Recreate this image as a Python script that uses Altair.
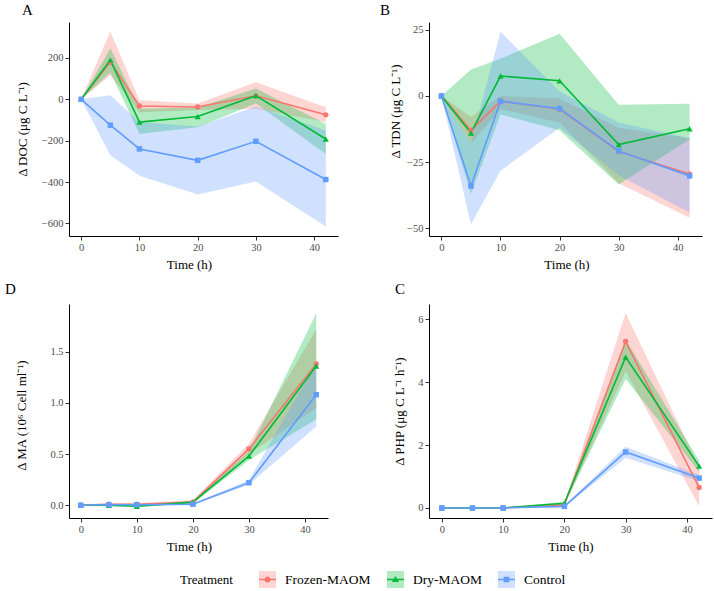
import altair as alt
import pandas as pd

FONT = "Liberation Serif"

times = [0, 5, 10, 20, 30, 42]
treatments = ["Frozen-MAOM", "Dry-MAOM", "Control"]
key_domain = [t + " " for t in treatments]  # same names, used for the key glyph legend
colors = ["#F8766D", "#00BA38", "#619CFF"]
point_shapes = ["circle", "triangle-up", "square"]
point_sizes = [28, 38, 30]
x_ticks = [0, 10, 20, 30, 40]

# Panel A: DOC
doc_mean = {"Frozen-MAOM": [0, 180, -32, -37, 17, -75],
            "Dry-MAOM": [0, 190, -110, -83, 18, -192],
            "Control": [0, -125, -240, -295, -203, -388]}
doc_lo = {"Frozen-MAOM": [0, 117, -62, -52, -45, -110],
          "Dry-MAOM": [0, 130, -168, -135, -20, -265],
          "Control": [0, -270, -370, -460, -398, -615]}
doc_hi = {"Frozen-MAOM": [0, 328, -5, -20, 83, -38],
          "Dry-MAOM": [0, 247, -45, -40, 52, -119],
          "Control": [0, 20, -110, -132, -35, -151]}

# Panel B: TDN
tdn_mean = {"Frozen-MAOM": [0, -13, -2, -5, -21, -29.5],
            "Dry-MAOM": [0, -14, 7.5, 5.7, -18.4, -12.4],
            "Control": [0, -34, -2, -4.8, -20.8, -30.2]}
tdn_lo = {"Frozen-MAOM": [0, -18, -5, -10, -33, -46],
          "Dry-MAOM": [0, -37, -7, -13, -33.5, -16.4],
          "Control": [0, -48.5, -28.3, -12, -30, -44]}
tdn_hi = {"Frozen-MAOM": [0, -8, 0, -1, -12, -16],
          "Dry-MAOM": [0, 10, 14, 23.5, -3.3, -3],
          "Control": [0, -18, 24.3, 1.7, -10, -16]}

# Panel D: MA
ma_mean = {"Frozen-MAOM": [0, 0.01, 0.01, 0.03, 0.55, 1.38],
           "Dry-MAOM": [0, 0, -0.01, 0.03, 0.48, 1.36],
           "Control": [0, 0.005, 0.005, 0.01, 0.22, 1.08]}
ma_lo = {"Frozen-MAOM": [-0.01, 0, 0, 0.01, 0.5, 0.95],
         "Dry-MAOM": [-0.01, -0.01, -0.02, 0.02, 0.44, 0.84],
         "Control": [-0.01, 0, 0, 0, 0.2, 0.77]}
ma_hi = {"Frozen-MAOM": [0.01, 0.02, 0.02, 0.05, 0.6, 1.72],
         "Dry-MAOM": [0.01, 0.01, 0, 0.04, 0.53, 1.875],
         "Control": [0.01, 0.01, 0.01, 0.02, 0.245, 1.39]}

# Panel C: PHP
php_mean = {"Frozen-MAOM": [0, 0, 0, 0.1, 5.3, 0.65],
            "Dry-MAOM": [0, 0, 0, 0.15, 4.8, 1.33],
            "Control": [0, 0, 0, 0.05, 1.78, 0.95]}
php_lo = {"Frozen-MAOM": [0, 0, 0, 0.05, 4.35, 0.05],
          "Dry-MAOM": [0, 0, 0, 0.1, 4.1, 1.15],
          "Control": [0, 0, 0, 0.02, 1.6, 0.85]}
php_hi = {"Frozen-MAOM": [0, 0, 0, 0.15, 6.2, 1.3],
          "Dry-MAOM": [0, 0, 0, 0.2, 5.35, 1.5],
          "Control": [0, 0, 0, 0.08, 1.95, 1.05]}


def make_df(mean, lo, hi):
    rows = []
    for tr, kd in zip(treatments, key_domain):
        for t, m, l, h in zip(times, mean[tr], lo[tr], hi[tr]):
            rows.append(dict(Time=t, Treatment=tr, Trt=kd, mean=m, lo=l, hi=h))
    return pd.DataFrame(rows)


# legend key glyphs: line through point marker (unit box -1..1)
bar = "M-1,-0.08L1,-0.08L1,0.08L-1,0.08Z"
legend_paths = [
    bar + "M-0.36,0A0.36,0.36,0,1,1,0.36,0A0.36,0.36,0,1,1,-0.36,0Z",
    bar + "M0,-0.42L0.42,0.3L-0.42,0.3Z",
    bar + "M-0.33,-0.33L0.33,-0.33L0.33,0.33L-0.33,0.33Z",
]
key_square = "M-1,-1L1,-1L1,1L-1,1Z"

LX, LY = 111, 549
leg_common = dict(orient="none", legendX=LX, legendY=LY, direction="horizontal",
                  title="Treatment", titleOrient="left", titleFont=FONT, titleFontSize=13,
                  titleFontWeight="normal", titleColor="black", titlePadding=26,
                  labelFont=FONT, labelFontSize=13.5, labelColor="black", labelOffset=9,
                  columnPadding=16, symbolSize=289, symbolStrokeWidth=0, padding=0,
                  labelExpr="trim(datum.label)")
leg_fill = alt.Legend(symbolType=key_square, symbolOpacity=0.3, **leg_common)
leg_key = alt.Legend(symbolOpacity=1, titleOpacity=0, labelOpacity=0, **leg_common)

fill_scale = alt.Scale(domain=treatments, range=colors)
stroke_scale = alt.Scale(domain=treatments, range=colors)
key_color_scale = alt.Scale(domain=key_domain, range=colors)
key_shape_scale = alt.Scale(domain=key_domain, range=legend_paths)
x_scale = alt.Scale(domain=[-2.1, 44.1], nice=False, zero=False)


def panel(df, letter, title_dx, title_offset, ytitle, ydom, yvals, yfmt, w, y_extent,
          xtitle_x, ytitle_y=None, with_legend=False):
    ysc = alt.Scale(domain=ydom, nice=False, zero=False)
    xaxis = alt.Axis(values=x_ticks, title="Time (h)", minExtent=22, maxExtent=22,
                     titlePadding=0, titleX=xtitle_x)
    yargs = dict(values=yvals, title=ytitle, format=yfmt, minExtent=y_extent,
                 maxExtent=y_extent, titlePadding=0)
    if ytitle_y is not None:
        yargs["titleY"] = ytitle_y
    yaxis = alt.Axis(**yargs)
    X = alt.X("Time:Q", scale=x_scale, axis=xaxis)
    base = alt.Chart(df)
    layers = []
    for tr in treatments:
        layers.append(
            base.transform_filter(alt.datum.Treatment == tr).mark_area(opacity=0.3).encode(
                x=X,
                y=alt.Y("hi:Q", scale=ysc, axis=yaxis),
                y2="lo:Q",
                fill=alt.Fill("Treatment:N", scale=fill_scale, legend=leg_fill),
            ))
    for tr in treatments:
        layers.append(
            base.transform_filter(alt.datum.Treatment == tr).mark_line(strokeWidth=1.6).encode(
                x=X,
                y=alt.Y("mean:Q", scale=ysc, axis=yaxis),
                stroke=alt.Stroke("Treatment:N", scale=stroke_scale, legend=None),
            ))
    for tr, shp, sz in zip(treatments, point_shapes, point_sizes):
        layers.append(
            base.transform_filter(alt.datum.Treatment == tr)
            .mark_point(filled=True, shape=shp, size=sz, opacity=1).encode(
                x=X,
                y=alt.Y("mean:Q", scale=ysc, axis=yaxis),
                fill=alt.Fill("Treatment:N", scale=fill_scale, legend=None),
            ))
    if with_legend:
        layers.append(
            base.mark_point(filled=True, opacity=0, size=289).encode(
                x=X,
                y=alt.Y("mean:Q", scale=ysc, axis=yaxis),
                color=alt.Color("Trt:N", scale=key_color_scale, legend=leg_key),
                shape=alt.Shape("Trt:N", scale=key_shape_scale, legend=leg_key),
            ))
    return alt.layer(*layers).properties(
        width=w, height=214,
        title=alt.TitleParams(text=letter, anchor="start", frame="group", dx=title_dx,
                              dy=15, offset=title_offset, baseline="alphabetic",
                              fontSize=15, font=FONT, fontWeight="normal", color="black"),
    )


pA = panel(make_df(doc_mean, doc_lo, doc_hi), "A", -47, 7, "Δ DOC (μg C L⁻¹)",
           [-661, 374], [-600, -400, -200, 0, 200], "d", 269, 40, 120, with_legend=True)
pB = panel(make_df(tdn_mean, tdn_lo, tdn_hi), "B", -49, 7, "Δ TDN (μg C L⁻¹)",
           [-52.9, 27.9], [-50, -25, 0, 25], "d", 273, 27, 137.5, ytitle_y=89)
pD = panel(make_df(ma_mean, ma_lo, ma_hi), "D", -64, 10, "Δ MA (10⁶ Cell ml⁻¹)",
           [-0.125, 1.966], [0, 0.5, 1.0, 1.5], ".1f", 259, 40.5, 120, ytitle_y=111)
pC = panel(make_df(php_mean, php_lo, php_hi), "C", -34, 10, "Δ PHP (μg C L⁻¹ h⁻¹)",
           [-0.32, 6.49], [0, 2, 4, 6], "d", 283, 22.7, 141.5)

chart = alt.concat(pA, pB, pD, pC, columns=2, spacing={"row": 68, "column": 91},
                   bounds="flush", align="each").properties(
    autosize=alt.AutoSizeParams(type="none"),
    padding={"left": 69, "top": 22, "right": 645, "bottom": 569},
).configure_view(stroke=None).configure_axis(
    grid=False, domainColor="black", domainWidth=1, tickColor="#333333", tickWidth=1,
    tickSize=4, labelPadding=2, labelFont=FONT, labelFontSize=10.5, labelColor="#4D4D4D",
    titleFont=FONT, titleFontSize=13, titleFontWeight="normal", titleColor="black",
)

chart.save("out.html", embed_options={"renderer": "svg", "actions": False})
